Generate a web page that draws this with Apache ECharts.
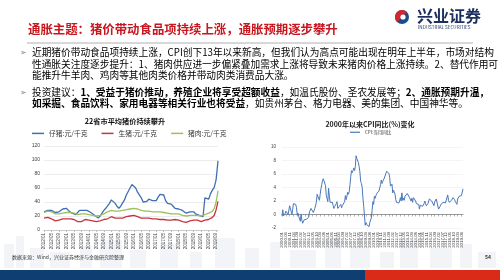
<!DOCTYPE html>
<html>
<head>
<meta charset="utf-8">
<script src="https://cdn.jsdelivr.net/npm/echarts@6/dist/echarts.min.js"></script>
<style>
html, body { margin: 0; padding: 0; background: #fff; }
#main { width: 500px; height: 280px; }
</style>
</head>
<body>
<div id="main"></div>
<script>
// 22省市平均猪价 (月度, 2012/01 - 2019/10)
var zaizhu = [26,27,28,29,28,26,25,24,26,28, 30,32,31,28,26,24,23,22,25,28,
    27,28,28,28,27,25,23,21,19,17, 20,24,28,31,33,38,43,41,38,34,
    31,34,36,43,50,55,60,65,67,60, 54,53,46,40,39,41,44,45,42,40,
    42,47,51,51,50,42,38,37,37,34, 31,31,30,29,28,26,24,25,26,27,
    26,23,22,21,20,19,46,45,44,52, 57,61,72,99];
var shengzhu = [17,18,18,18,16,14,13,13,14,15, 16,16,16,16,16,16,15,14,12,11,
    12,14,15,15,14,14,13,13,12,12, 13,14,15,15,16,18,19,18,17,17,
    17,17,17,18,19,20,20,21,21,20, 19,18,17,17,17,17,17,16,16,16,
    16,16,15,15,15,14,14,14,14,15, 15,15,14,13,12,11,11,12,13,14,
    14,14,14,13,12,12,14,15,15,16, 18,21,29,41];
var zhurou = [25,26,27,27,26,24,23,23,23,24, 24,24,25,25,25,25,24,23,22,22,
    23,23,23,23,22,21,21,20,20,20, 21,22,23,24,26,27,28,28,27,27,
    27,28,28,29,29,30,30,31,31,30, 30,29,28,28,27,27,27,26,26,26,
    26,26,26,26,25,24,24,24,23,23, 23,23,23,22,21,20,20,20,21,21,
    21,21,21,20,20,20,22,23,24,25, 27,31,40,56];

// CPI 当月同比 (2000-01 - 2019-10)
var cpi = [
    -0.2,0.7,-0.2,-0.3,0.1,0.5,0.5,0.3,0.0,0.0,1.3,1.5,
    1.2,0.0,0.8,1.6,1.7,1.4,1.5,1.0,-0.1,0.2,-0.3,-0.3,
    -1.0,0.0,-0.8,-1.3,-1.1,-0.8,-0.9,-0.7,-0.7,-0.8,-0.7,-0.4,
    0.4,0.2,0.9,1.0,0.7,0.3,0.5,0.9,1.1,1.8,3.0,3.2,
    3.2,2.1,3.0,3.8,4.4,5.0,5.3,5.3,5.2,4.3,2.8,2.4,
    1.9,3.9,2.7,1.8,1.8,1.6,1.8,1.3,0.9,1.2,1.3,1.6,
    1.9,0.9,0.8,1.2,1.4,1.5,1.0,1.3,1.5,1.4,1.9,2.8,
    2.2,2.7,3.3,3.0,3.4,4.4,5.6,6.5,6.2,6.5,6.9,6.5,
    7.1,8.7,8.3,8.5,7.7,7.1,6.3,4.9,4.6,4.0,2.4,1.2,
    1.0,-1.6,-1.2,-1.5,-1.4,-1.7,-1.8,-1.2,-0.8,-0.5,0.6,1.9,
    1.5,2.7,2.4,2.8,3.1,2.9,3.3,3.5,3.6,4.4,5.1,4.6,
    4.9,4.9,5.4,5.3,5.5,6.4,6.5,6.2,6.1,5.5,4.2,4.1,
    4.5,3.2,3.6,3.4,3.0,2.2,1.8,2.0,1.9,1.7,2.0,2.5,
    2.0,3.2,2.1,2.4,2.1,2.7,2.7,2.6,3.1,3.2,3.0,2.5,
    2.5,2.0,2.4,1.8,2.5,2.3,2.3,2.0,1.6,1.6,1.4,1.5,
    0.8,1.4,1.4,1.5,1.2,1.4,1.6,2.0,1.6,1.3,1.5,1.6,
    1.8,2.3,2.3,2.3,2.0,1.9,1.8,1.3,1.9,2.1,2.3,2.1,
    2.5,0.8,0.9,1.2,1.5,1.5,1.4,1.8,1.6,1.9,1.7,1.8,
    1.5,2.9,2.1,1.8,1.8,1.9,2.1,2.3,2.5,2.5,2.2,1.9,
    1.7,1.5,2.3,2.5,2.7,2.7,2.8,2.8,3.0,3.8
];

var pigNames = ['仔猪:元/千克', '生猪:元/千克', '猪肉:元/千克'];
var cpiName = 'CPI:当月同比';

// month labels
var pigMonths = [];
for (var i = 0; i < zaizhu.length; i++) {
    var m = i % 12 + 1;
    pigMonths.push((2012 + Math.floor(i / 12)) + '/' + (m < 10 ? '0' + m : m));
}
var cpiMonths = [];
for (var j = 0; j < cpi.length; j++) {
    var mm = j % 12 + 1;
    cpiMonths.push((2000 + Math.floor(j / 12)) + '-' + (mm < 10 ? '0' + mm : mm));
}

var CJK = '"Noto Sans CJK SC", "Noto Sans", sans-serif';
var navy = '#1f3a73';
var bodySize = 9.7;

function txt(x, y, text, size, color, bold, align) {
    return {
        type: 'text', x: x, y: y, silent: true,
        style: {
            text: text, fill: color,
            font: (bold ? 'bold ' : '') + size + 'px ' + CJK,
            align: align || 'left', verticalAlign: 'middle'
        }
    };
}
function richLine(x, y, text) {
    return {
        type: 'text', x: x, y: y, silent: true,
        style: {
            text: text, verticalAlign: 'middle',
            rich: {
                n: { fontSize: bodySize, fontFamily: CJK, color: navy },
                b: { fontSize: bodySize, fontFamily: CJK, color: navy, fontWeight: 'bold' }
            }
        }
    };
}

// background skyline
var skyline = [];
var blds = [[4,244,10,24],[16,236,8,32],[30,248,14,20],[50,252,20,16],[80,246,12,22],[100,240,22,28],
    [130,250,16,18],[160,244,18,24],[190,252,12,16],[215,238,20,30],[245,248,14,20],[270,242,10,26],
    [290,250,26,18],[325,236,16,32],[350,246,20,22],[380,252,14,16],[400,240,18,28],[430,248,22,20],
    [460,244,12,24],[478,252,18,16]];
blds.forEach(function (b) {
    skyline.push({ type: 'rect', silent: true, z: -10,
        shape: { x: b[0], y: b[1], width: b[2], height: b[3] },
        style: { fill: '#f2f4f7' } });
});

var graphics = skyline.concat([
    // header
    txt(28, 29, '通胀主题：猪价带动食品项持续上涨，通胀预期逐步攀升', 12.4, '#c8161e', true),
    { type: 'line', silent: true, shape: { x1: 27, y1: 43, x2: 473, y2: 43 },
      style: { stroke: '#b0b0b0', lineWidth: 1 } },
    // logo
    { type: 'circle', silent: true, shape: { cx: 402, cy: 17, r: 7 }, style: { fill: '#1a4c8b' } },
    { type: 'sector', silent: true, shape: { cx: 402, cy: 17, r: 7, r0: 0, startAngle: Math.PI * 0.75, endAngle: Math.PI * 1.75 },
      style: { fill: '#d3282b' } },
    { type: 'circle', silent: true, shape: { cx: 403, cy: 17, r: 2.6 }, style: { fill: '#fff' } },
    txt(417, 16, '兴业证券', 16, '#1c2f5e', true),
    txt(418, 27, 'INDUSTRIAL SECURITIES', 4.6, '#1c2f5e', false),
    // bullets
    txt(20, 52, '➢', 8, '#808080', false),
    richLine(32, 52, '{n|近期猪价带动食品项持续上涨，CPI创下13年以来新高，但我们认为高点可能出现在明年上半年，市场对结构}'),
    richLine(32, 64, '{n|性通胀关注度逐步提升：1、猪肉供应进一步偏紧叠加需求上涨将导致未来猪肉价格上涨持续。2、替代作用可}'),
    richLine(32, 75, '{n|能推升牛羊肉、鸡肉等其他肉类价格并带动肉类消费品大涨。}'),
    txt(20, 92, '➢', 8, '#808080', false),
    richLine(32, 92, '{n|投资建议：}{b|1、受益于猪价推动，养殖企业将享受超额收益}{n|，如温氏股份、圣农发展等；}{b|2、通胀预期升温，}'),
    richLine(32, 103, '{b|如采掘、食品饮料、家用电器等相关行业也将受益}{n|，如贵州茅台、格力电器、美的集团、中国神华等。}'),
    // chart titles
    txt(125, 121, '22省市平均猪价持续攀升', 7.2, '#111', true, 'center'),
    txt(370, 124, '2000年以来CPI同比(%)变化', 7, '#222', true, 'center'),
    // footer
    txt(12, 257, '数据来源：Wind，兴业证券经济与金融研究院整理', 5, '#333', false),
    txt(491, 257, '54', 5, '#333', true, 'right'),
    { type: 'rect', silent: true, shape: { x: 0, y: 270, width: 365, height: 10 }, style: { fill: '#0f3f72' } },
    { type: 'rect', silent: true, shape: { x: 365, y: 270, width: 135, height: 10 }, style: { fill: '#d92b17' } }
]);

var myChart = echarts.init(document.getElementById('main'));
var option = {
    animation: false,
    backgroundColor: '#fff',
    graphic: graphics,
    legend: [{
        data: pigNames,
        left: 32, top: 130, padding: 0,
        icon: 'rect', itemWidth: 12, itemHeight: 1.5, itemGap: 14,
        textStyle: { fontSize: 6.8, color: '#333', fontFamily: CJK }
    }, {
        data: [cpiName],
        left: 350, top: 130, padding: 0,
        icon: 'rect', itemWidth: 10, itemHeight: 1.2, itemGap: 4,
        textStyle: { fontSize: 4.5, color: '#333', fontFamily: CJK }
    }],
    grid: [
        { left: 44, top: 146, width: 174, height: 84 },
        { left: 282, top: 147, width: 181, height: 81 }
    ],
    xAxis: [{
        type: 'category', gridIndex: 0, data: pigMonths, boundaryGap: false,
        axisLine: { lineStyle: { color: '#bfbfbf', width: 0.8 } },
        axisTick: { show: true, interval: 3, length: 2, lineStyle: { color: '#bfbfbf' } },
        axisLabel: { interval: 3, rotate: 90, fontSize: 4.5, color: '#404040', margin: 3 }
    }, {
        type: 'category', gridIndex: 1, data: cpiMonths, boundaryGap: false, position: 'bottom',
        axisLine: { show: false, onZero: false },
        axisTick: { show: false },
        axisLabel: { interval: 4, rotate: 90, fontSize: 4.3, color: '#404040', margin: 4 }
    }, {
        type: 'category', gridIndex: 1, data: cpiMonths, boundaryGap: false, position: 'bottom',
        axisLine: { onZero: true, lineStyle: { color: '#7f7f7f', width: 0.8 } },
        axisTick: { show: true, interval: 4, length: 2, lineStyle: { color: '#7f7f7f', width: 0.6 } },
        axisLabel: { show: false }
    }],
    yAxis: [{
        type: 'value', gridIndex: 0, min: 0, max: 120, interval: 20,
        axisLine: { show: false }, axisTick: { show: false },
        axisLabel: { fontSize: 5, color: '#404040', margin: 4 },
        splitLine: { lineStyle: { color: '#e0e0e0', width: 0.6 } }
    }, {
        type: 'value', gridIndex: 1, min: -2, max: 10, interval: 2,
        axisLine: { show: false }, axisTick: { show: false },
        axisLabel: { fontSize: 4.5, color: '#404040', margin: 6 },
        splitLine: { lineStyle: { color: '#ececec', width: 0.6 } }
    }],
    series: [{
        name: pigNames[0], type: 'line', xAxisIndex: 0, yAxisIndex: 0,
        data: zaizhu, showSymbol: false, color: '#3f6fb6',
        lineStyle: { width: 1.3 }
    }, {
        name: pigNames[1], type: 'line', xAxisIndex: 0, yAxisIndex: 0,
        data: shengzhu, showSymbol: false, color: '#c73343',
        lineStyle: { width: 1.3 }
    }, {
        name: pigNames[2], type: 'line', xAxisIndex: 0, yAxisIndex: 0,
        data: zhurou, showSymbol: false, color: '#9dc05a',
        lineStyle: { width: 1.3 }
    }, {
        name: cpiName, type: 'line', xAxisIndex: 1, yAxisIndex: 1,
        data: cpi, showSymbol: false, color: '#4a78b8',
        lineStyle: { width: 1 }
    }]
};
myChart.setOption(option);
</script>
</body>
</html>
